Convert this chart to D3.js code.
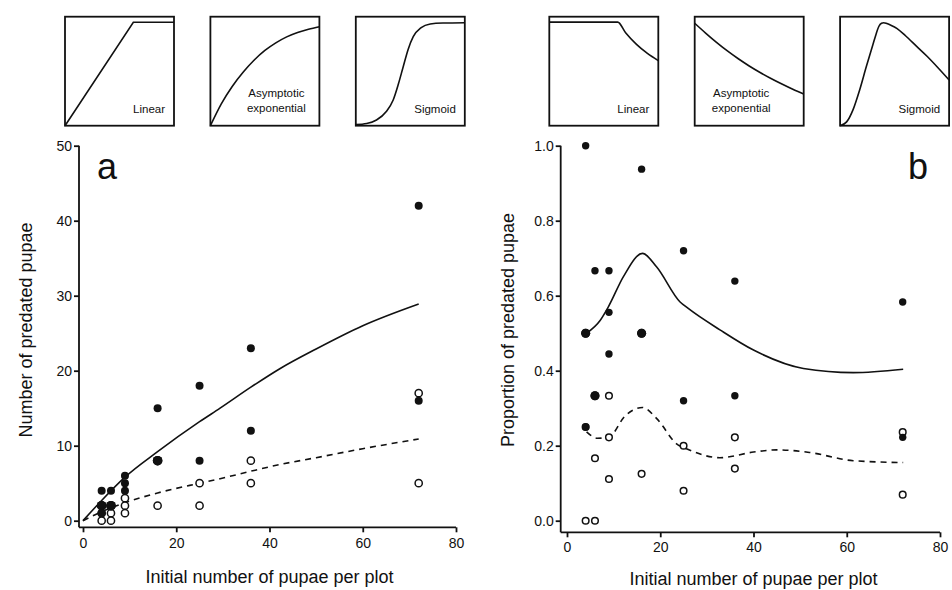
<!DOCTYPE html>
<html>
<head>
<meta charset="utf-8">
<script src="https://cdn.jsdelivr.net/npm/d3@7"></script>
<style>
  html, body { margin: 0; padding: 0; background: #fff; }
  svg { display: block; font-family: "Liberation Sans", Arial, Helvetica, sans-serif; }
</style>
</head>
<body>
<div id="chart"></div>
<script>
// pupae per plot vs. number predated, filled and open symbols
var filledX = [4, 4, 4, 4, 6, 6, 6, 9, 9, 9, 16, 16, 16, 25, 25, 36, 36, 72, 72]
var filledY = [4, 2, 2, 1, 4, 2, 2, 6, 5, 4, 15, 8, 8, 18, 8, 23, 12, 42, 16]
var openX = [4, 4, 6, 6, 9, 9, 9, 16, 25, 25, 36, 36, 72, 72]
var openY = [1, 0, 1, 0, 3, 2, 1, 2, 5, 2, 8, 5, 17, 5]

// fitted curves
var fitAX = [0, 4, 9, 16, 25, 29.4, 36, 42.3, 50, 60, 72]
var fitASolid = [0, 2.7, 5.8, 9.2, 13.2, 15.0, 17.8, 20.3, 22.9, 26.0, 28.9]
var fitADashed = [0, 1.2, 2.4, 3.7, 5.0, 5.6, 6.6, 7.5, 8.4, 9.6, 10.9]

var fitBX = [4.2, 7.1, 8.9, 12.1, 16.2, 19.2, 24.2, 26, 32.8, 40, 50.7, 61.4, 72.1]
var fitBSolid = [0.50, 0.534, 0.571, 0.651, 0.713, 0.677, 0.584, 0.566, 0.509, 0.455, 0.406, 0.395, 0.404]
var fitBDX = [4.2, 6.5, 8.9, 12.5, 16.2, 19.2, 23.5, 26, 32.8, 40, 45, 52, 61.4, 72.1]
var fitBDashed = [0.237, 0.22, 0.222, 0.28, 0.302, 0.273, 0.205, 0.19, 0.168, 0.183, 0.189, 0.182, 0.16, 0.155]

var xTicks = [0, 20, 40, 60, 80]
var yTicksA = [0, 10, 20, 30, 40, 50]
var yTicksB = [0, 0.2, 0.4, 0.6, 0.8, 1.0]

// schematic insets (unit box, u across, v up)
var insetU = {
  aLinear: [0, 0.627, 1],
  aAsym: [0, 0.1, 0.2, 0.3, 0.4, 0.5, 0.6, 0.7, 0.8, 0.9, 1],
  aSig: [0, 0.1, 0.19, 0.28, 0.343, 0.39, 0.435, 0.48, 0.527, 0.6, 0.683, 0.8, 1],
  bLinear: [0, 0.628, 0.7, 0.8, 0.9, 1],
  bAsym: [0, 0.1, 0.2, 0.3, 0.4, 0.5, 0.6, 0.7, 0.8, 0.9, 1],
  bSig: [0, 0.06, 0.12, 0.18, 0.24, 0.3, 0.33, 0.355, 0.38, 0.4, 0.43, 0.47, 0.52, 0.6, 0.7, 0.8, 0.9, 1]
}
var insetV = {
  aLinear: [0, 0.949, 0.949],
  aAsym: [0, 0.2, 0.36, 0.49, 0.6, 0.69, 0.76, 0.815, 0.855, 0.885, 0.908],
  aSig: [0.01, 0.02, 0.052, 0.13, 0.236, 0.38, 0.541, 0.7, 0.817, 0.9, 0.933, 0.942, 0.945],
  bLinear: [0.95, 0.95, 0.852, 0.746, 0.663, 0.597],
  bAsym: [0.94, 0.85, 0.765, 0.686, 0.614, 0.548, 0.488, 0.433, 0.382, 0.334, 0.29],
  bSig: [0, 0.035, 0.15, 0.33, 0.54, 0.74, 0.84, 0.91, 0.94, 0.945, 0.937, 0.92, 0.893, 0.825, 0.73, 0.635, 0.53, 0.42]
}
var insetLabels = ["Linear", "Asymptotic exponential", "Sigmoid"]

var
  WIDTH = 952,
  HEIGHT = 590,
  INK = "#111",
  svg = d3.select("#chart").append("svg")
    .attr("width", WIDTH).attr("height", HEIGHT)

svg.append("rect").attr("width", WIDTH).attr("height", HEIGHT).attr("fill", "#fff")

function zip(xs, ys) {
  return xs.map(function(x, i) { return [x, ys[i]] })
}

function panel(opt) {
  var
    g = svg.append("g"),
    x = d3.scaleLinear().domain([0, 80]).range(opt.xRange),
    y = d3.scaleLinear().domain(opt.yDomain).range([520.7, 145.7])

  // y axis
  var yAxis = g.append("g")
    .attr("transform", "translate(" + opt.yAxisX + ",0)")
    .call(d3.axisLeft(y).tickValues(opt.yTicks).tickSize(5).tickSizeOuter(0).tickPadding(2).tickFormat(opt.yFormat))
  yAxis.select(".domain").remove()
  yAxis.append("line")
    .attr("x1", 0).attr("x2", 0)
    .attr("y1", y(opt.yDomain[1])).attr("y2", opt.xAxisY)

  // x axis
  var xAxis = g.append("g")
    .attr("transform", "translate(0," + opt.xAxisY + ")")
    .call(d3.axisBottom(x).tickValues(xTicks).tickSize(5).tickSizeOuter(0).tickPadding(opt.xPad))
  xAxis.select(".domain").remove()
  xAxis.append("line")
    .attr("x1", opt.yAxisX).attr("x2", x(80))
    .attr("y1", 0).attr("y2", 0)

  g.selectAll(".tick line, g > line").attr("stroke", INK).attr("stroke-width", 1.8)
  g.selectAll(".tick text").attr("fill", INK).attr("font-size", 14).attr("font-family", null)

  g.append("text")
    .text("Initial number of pupae per plot")
    .attr("x", (x(0) + x(80)) / 2)
    .attr("y", opt.xTitleY)
    .attr("text-anchor", "middle")
    .attr("font-size", 18)
    .attr("fill", INK)

  g.append("text")
    .text(opt.yTitle)
    .attr("text-anchor", "middle")
    .attr("font-size", 18)
    .attr("fill", INK)
    .attr("transform", "translate(" + opt.yTitleX + "," + 330 + ") rotate(-90)")

  g.append("text")
    .text(opt.letter)
    .attr("x", opt.letterX)
    .attr("y", 178.5)
    .attr("text-anchor", opt.letterAnchor)
    .attr("font-size", 36)
    .attr("fill", INK)

  // fitted curves
  var line = d3.line()
    .x(function(d) { return x(d[0]) })
    .y(function(d) { return y(d[1]) })
    .curve(d3.curveMonotoneX)

  g.append("path")
    .attr("d", line(opt.solid))
    .attr("fill", "none").attr("stroke", INK).attr("stroke-width", 1.6)
  g.append("path")
    .attr("d", line(opt.dashed))
    .attr("fill", "none").attr("stroke", INK).attr("stroke-width", 1.6)
    .attr("stroke-dasharray", "6,5")

  // points: open first, filled on top
  g.selectAll(".open")
    .data(opt.open)
    .enter().append("circle")
    .attr("class", "open")
    .attr("cx", function(d) { return x(d[0]) })
    .attr("cy", function(d) { return y(d[1]) })
    .attr("r", opt.r - 0.4)
    .attr("fill", "#fff").attr("stroke", INK).attr("stroke-width", 1.5)

  var counts = d3.rollup(opt.filled, function(v) { return v.length }, function(d) { return d[0] + ":" + d[1] })
  g.selectAll(".filled")
    .data(opt.filled)
    .enter().append("circle")
    .attr("class", "filled")
    .attr("cx", function(d) { return x(d[0]) })
    .attr("cy", function(d) { return y(d[1]) })
    .attr("r", function(d) { return counts.get(d[0] + ":" + d[1]) > 1 ? opt.r + 0.8 : opt.r })
    .attr("fill", INK)

  // insets
  opt.insets.forEach(function(k, i) {
    var
      left = opt.insetLeft + i * 145.4,
      size = 109,
      ig = g.append("g").attr("transform", "translate(" + left + ",16.7)"),
      u = d3.scaleLinear().domain([0, 1]).range([0, size]),
      v = d3.scaleLinear().domain([0, 1]).range([size, 0]),
      l = d3.line()
        .x(function(d) { return u(d[0]) })
        .y(function(d) { return v(d[1]) })
        .curve(k === "aLinear" ? d3.curveLinear : d3.curveMonotoneX)

    ig.append("rect")
      .attr("width", size).attr("height", size)
      .attr("fill", "none").attr("stroke", INK).attr("stroke-width", 1.8)
    ig.append("path")
      .attr("d", l(zip(insetU[k], insetV[k])))
      .attr("fill", "none").attr("stroke", INK).attr("stroke-width", 1.6)

    var words = insetLabels[i].split(" ")
    if (words.length > 1) {
      words.forEach(function(w, j) {
        ig.append("text").text(w)
          .attr("x", opt.asymCenter).attr("y", 80 + j * 15)
          .attr("text-anchor", "middle")
          .attr("font-size", 11.5).attr("fill", INK)
      })
    } else {
      ig.append("text").text(words[0])
        .attr("x", size - 9).attr("y", 96.5)
        .attr("text-anchor", "end")
        .attr("font-size", 11.5).attr("fill", INK)
    }
  })
}

panel({
  xRange: [83, 456],
  yDomain: [0, 50],
  yTicks: yTicksA,
  yFormat: d3.format("d"),
  yAxisX: 79,
  xAxisY: 527.3,
  xPad: 6,
  xTitleY: 583,
  yTitle: "Number of predated pupae",
  yTitleX: 32,
  letter: "a",
  letterX: 97,
  letterAnchor: "start",
  solid: zip(fitAX, fitASolid),
  dashed: zip(fitAX, fitADashed),
  filled: zip(filledX, filledY),
  open: zip(openX, openY),
  r: 4,
  insets: ["aLinear", "aAsym", "aSig"],
  insetLeft: 65,
  asymCenter: 66
})

panel({
  xRange: [567, 940],
  yDomain: [0, 1],
  yTicks: yTicksB,
  yFormat: d3.format(".1f"),
  yAxisX: 560.7,
  xAxisY: 532.3,
  xPad: 5,
  xTitleY: 585,
  yTitle: "Proportion of predated pupae",
  yTitleX: 514,
  letter: "b",
  letterX: 928,
  letterAnchor: "end",
  solid: zip(fitBX, fitBSolid),
  dashed: zip(fitBDX, fitBDashed),
  filled: zip(filledX, filledY.map(function(n, i) { return n / filledX[i] })),
  open: zip(openX, openY.map(function(n, i) { return n / openX[i] })),
  r: 3.7,
  insets: ["bLinear", "bAsym", "bSig"],
  insetLeft: 549.3,
  asymCenter: 46.5
})
</script>
</body>
</html>
